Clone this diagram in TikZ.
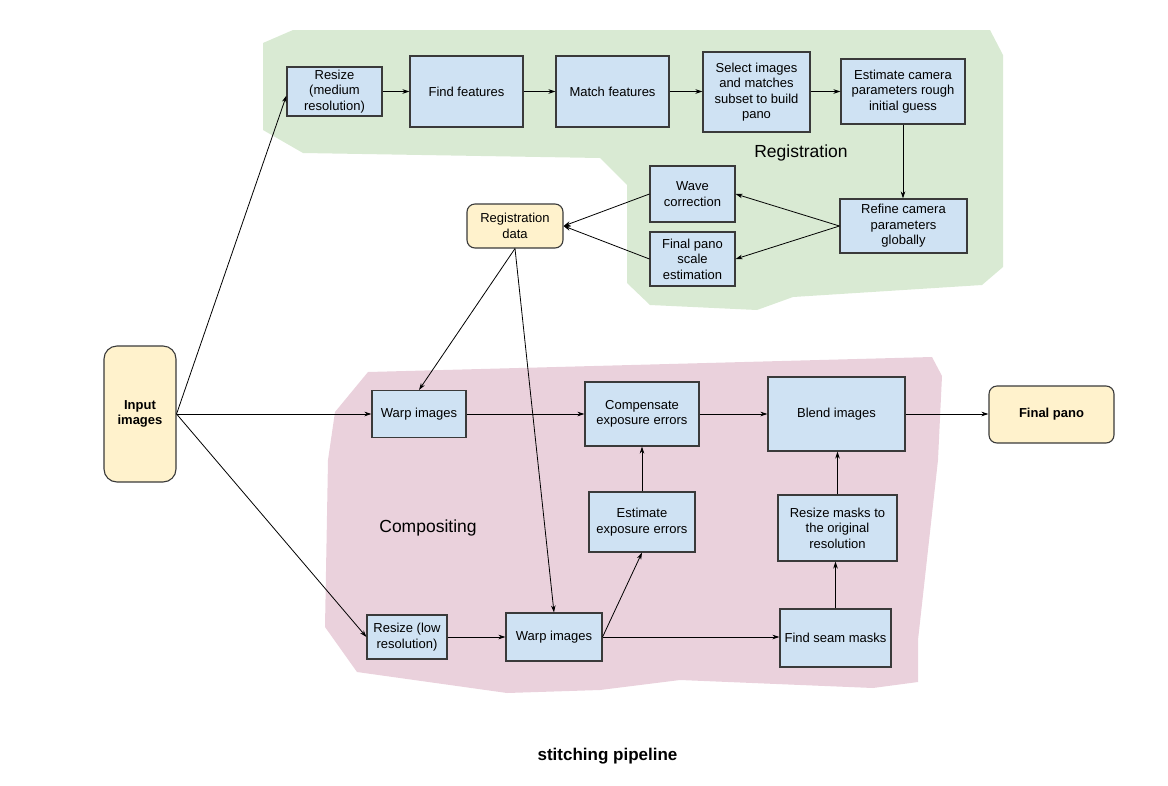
\documentclass[tikz,border=0pt]{standalone}
\usepackage{fontspec}
\setmainfont{Liberation Sans}
\usetikzlibrary{arrows.meta,calc}
\definecolor{regbg}{HTML}{D9EAD3}
\definecolor{compbg}{HTML}{EAD1DC}
\definecolor{boxfill}{HTML}{CFE2F3}
\definecolor{yel}{HTML}{FFF2CC}
\definecolor{bord}{HTML}{3A3A3A}
\tikzset{
  box/.style={draw=bord, line width=1.1pt, fill=boxfill, inner sep=0pt, align=center,
    font=\fontsize{13}{15.5}\selectfont},
  term/.style={box, fill=yel, rounded corners=8pt},
  conn/.style={line width=0.8pt, -{Stealth[length=7pt,width=4.5pt]}},
  regionlabel/.style={font=\fontsize{17.5}{20}\selectfont, inner sep=0pt}
}
\begin{document}
\begin{tikzpicture}[x=1pt,y=-1pt]
\useasboundingbox (0,0) rectangle (1168,785);
% regions
\fill[regbg] (263,43) -- (293,30) -- (990,30) -- (1003,55) -- (1003,267) -- (982,285) -- (793,297) -- (757,310) -- (650,305) -- (627,283) -- (627,185) -- (600,158) -- (303,153) -- (263,130) -- cycle;
\fill[compbg] (368,372) -- (932,357) -- (942,376) -- (938,460) -- (918,640) -- (918,682) -- (873,688) -- (680,680) -- (600,690) -- (507,693) -- (357,672) -- (325,627) -- (328,460) -- (335,412) -- cycle;
\node[regionlabel] (lreg) at (801,153) {Registration};
\node[regionlabel] (lcomp) at (428,528) {Compositing};
% registration boxes
\node[box, minimum width=95pt, minimum height=49pt] (rm) at (334.5,91.5) {Resize\\(medium\\resolution)};
\node[box, minimum width=113pt, minimum height=71pt] (ff) at (466.5,91.5) {Find features};
\node[box, minimum width=113pt, minimum height=71pt] (mf) at (612.5,91.5) {Match features};
\node[box, minimum width=107pt, minimum height=80pt] (si) at (756.5,92) {Select images\\and matches\\subset to build\\pano};
\node[box, minimum width=124pt, minimum height=65pt] (ec) at (903,91.5) {Estimate camera\\parameters rough\\initial guess};
\node[box, minimum width=127pt, minimum height=54pt] (rf) at (903.5,226) {Refine camera\\parameters\\globally};
\node[box, minimum width=85pt, minimum height=56pt] (wc) at (692.5,194) {Wave\\correction};
\node[box, minimum width=85pt, minimum height=54pt] (fs) at (692.5,259) {Final pano\\scale\\estimation};
\node[term, minimum width=96pt, minimum height=44pt] (rd) at (515,226) {Registration\\data};
% inputs / outputs
\node[term, rounded corners=13pt, minimum width=72pt, minimum height=136pt, font=\fontsize{13}{15.5}\selectfont\bfseries] (inp) at (140,414) {Input\\images};
\node[term, minimum width=125pt, minimum height=57pt, font=\fontsize{13}{15.5}\selectfont\bfseries] (fp) at (1051.5,414.5) {Final pano};
% compositing boxes
\node[box, minimum width=94pt, minimum height=47pt] (wt) at (419,414) {Warp images};
\node[box, minimum width=114pt, minimum height=64pt] (ce) at (642,414) {Compensate\\exposure errors};
\node[box, minimum width=137pt, minimum height=74pt] (bl) at (836.5,414) {Blend images};
\node[box, minimum width=106pt, minimum height=60pt] (ee) at (642,522) {Estimate\\exposure errors};
\node[box, minimum width=119pt, minimum height=66pt] (rs) at (837.5,528) {Resize masks to\\the original\\resolution};
\node[box, minimum width=111pt, minimum height=58pt] (fm) at (835.5,638) {Find seam masks};
\node[box, minimum width=80pt, minimum height=44pt] (rl) at (407,637) {Resize (low\\resolution)};
\node[box, minimum width=96pt, minimum height=48pt] (wb) at (554,637) {Warp images};
% caption
\node[font=\fontsize{17}{19}\selectfont\bfseries, inner sep=0pt] (cap) at (607.5,756) {stitching pipeline};
% connectors
\draw[conn] (inp.east) -- ([yshift=-4pt]rm.west);
\draw[conn] (inp.east) -- (wt.west);
\draw[conn] (inp.east) -- (rl.west);
\draw[conn] (rm.east) -- (ff.west);
\draw[conn] (ff.east) -- (mf.west);
\draw[conn] (mf.east) -- (si.west |- mf.east);
\draw[conn] (si.east |- ec.west) -- (ec.west);
\draw[conn] (ec.south) -- (ec.south |- rf.north);
\draw[conn] (rf.west) -- (wc.east);
\draw[conn] (rf.west) -- (fs.east);
\draw[conn] (wc.west) -- (rd.east);
\draw[conn] (fs.west) -- (rd.east);
\draw[conn] (rd.south) -- (wt.north);
\draw[conn] (rd.south) -- (wb.north);
\draw[conn] (wt.east) -- (ce.west |- wt.east);
\draw[conn] (ce.east) -- (bl.west |- ce.east);
\draw[conn] (bl.east) -- (fp.west |- bl.east);
\draw[conn] (ee.north) -- (ce.south);
\draw[conn] (wb.east) -- (ee.south);
\draw[conn] (wb.east) -- (fm.west |- wb.east);
\draw[conn] (rl.east) -- (wb.west);
\draw[conn] (fm.north) -- (fm.north |- rs.south);
\draw[conn] (rs.north) -- (rs.north |- bl.south);
\end{tikzpicture}
\end{document}
